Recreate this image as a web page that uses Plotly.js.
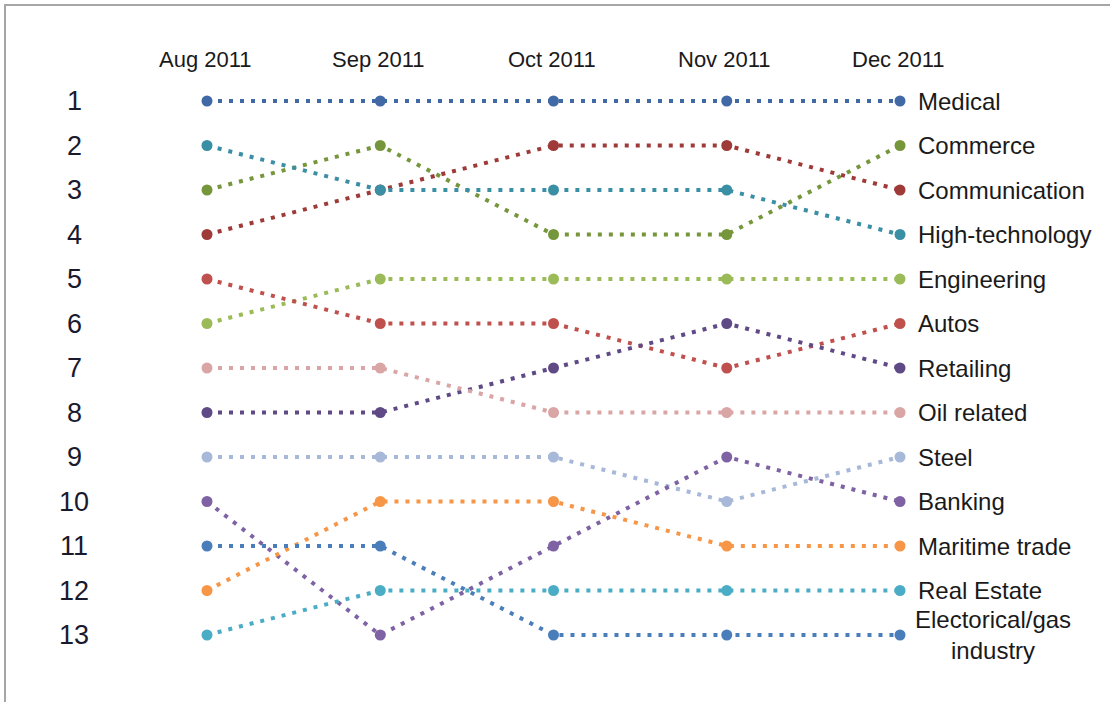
<!DOCTYPE html>
<html>
<head>
<meta charset="utf-8">
<script src="https://cdn.plot.ly/plotly-3.0.1.min.js"></script>
<style>
  html, body { margin: 0; padding: 0; background: #ffffff; }
  #chart { width: 1110px; height: 702px; }
</style>
</head>
<body>
<div id="chart"></div>
<script>
// ---- data ----
var months = ["Aug 2011", "Sep 2011", "Oct 2011", "Nov 2011", "Dec 2011"];
var rankLabels = ["1","2","3","4","5","6","7","8","9","10","11","12","13"];

var medical        = [1, 1, 1, 1, 1];
var commerce       = [3, 2, 4, 4, 2];
var communication  = [4, 3, 2, 2, 3];
var highTech       = [2, 3, 3, 3, 4];
var engineering    = [6, 5, 5, 5, 5];
var autos          = [5, 6, 6, 7, 6];
var retailing      = [8, 8, 7, 6, 7];
var oilRelated     = [7, 7, 8, 8, 8];
var steel          = [9, 9, 9, 10, 9];
var banking        = [10, 13, 11, 9, 10];
var maritime       = [12, 10, 10, 11, 11];
var realEstate     = [13, 12, 12, 12, 12];
var electorical    = [11, 11, 13, 13, 13];

var seriesNames = ["Medical", "Commerce", "Communication", "High-technology", "Engineering",
  "Autos", "Retailing", "Oil related", "Steel", "Banking", "Maritime trade", "Real Estate",
  "Electorical/gas<br>industry"];
var seriesValues = [medical, commerce, communication, highTech, engineering, autos,
  retailing, oilRelated, steel, banking, maritime, realEstate, electorical];
var seriesColors = ["#4169a6", "#76963c", "#9e3b39", "#3a8fa5", "#9bbb59", "#c0504d",
  "#5f4a86", "#d9a5a5", "#a7b8d8", "#7e62a4", "#f79646", "#4bacc6", "#4a7ebb"];

// ---- traces ----
var xIdx = months.map(function (m, i) { return i; });
var traces = seriesValues.map(function (vals, k) {
  return {
    type: "scatter",
    mode: "lines+markers",
    x: xIdx,
    y: vals,
    name: seriesNames[k],
    line: { color: seriesColors[k], width: 4, dash: "4px,7px" },
    marker: { color: seriesColors[k], size: 11 },
    hoverinfo: "skip",
    showlegend: false,
    cliponaxis: false
  };
});

var FONT = "Liberation Sans, Arial, sans-serif";
// ---- annotations ----
var annotations = [];
// month labels on top
months.forEach(function (m, i) {
  annotations.push({
    x: i, y: 0.07, xref: "x", yref: "y", text: m, showarrow: false,
    xanchor: "center", yanchor: "middle", xshift: -2,
    font: { family: FONT, size: 22, color: "#1a1a1a" }
  });
});
// rank labels on the left
rankLabels.forEach(function (r, i) {
  annotations.push({
    x: -0.765, y: i + 1, xref: "x", yref: "y", text: r, showarrow: false,
    xanchor: "center", yanchor: "middle",
    font: { family: FONT, size: 27, color: "#1a1a2e" }
  });
});
// series labels on the right
seriesNames.forEach(function (n, k) {
  var last = seriesValues[k][seriesValues[k].length - 1];
  var multi = n.indexOf("<br>") >= 0;
  annotations.push({
    x: months.length - 1, y: last, xref: "x", yref: "y", text: n, showarrow: false,
    xanchor: "left", yanchor: "middle", yshift: multi ? 0 : 0,
    xshift: multi ? 13 : 16, align: "center",
    font: { family: FONT, size: 24, color: "#1a1a1a" }
  });
});

var layout = {
  width: 1110,
  height: 702,
  margin: { l: 0, r: 0, t: 0, b: 0 },
  paper_bgcolor: "#ffffff",
  plot_bgcolor: "#ffffff",
  xaxis: { range: [-1.1948, 5.212], visible: false, fixedrange: true },
  yaxis: { range: [14.5056, -1.2697], visible: false, fixedrange: true },
  annotations: annotations,
  shapes: [{
    type: "rect", xref: "paper", yref: "paper",
    x0: 5 / 1110, x1: 1.2, y0: -0.2, y1: 1 - 5 / 702,
    line: { color: "#a6a6a6", width: 2 }, fillcolor: "rgba(0,0,0,0)", layer: "below"
  }]
};

Plotly.newPlot("chart", traces, layout, { displayModeBar: false, staticPlot: true });
</script>
</body>
</html>
